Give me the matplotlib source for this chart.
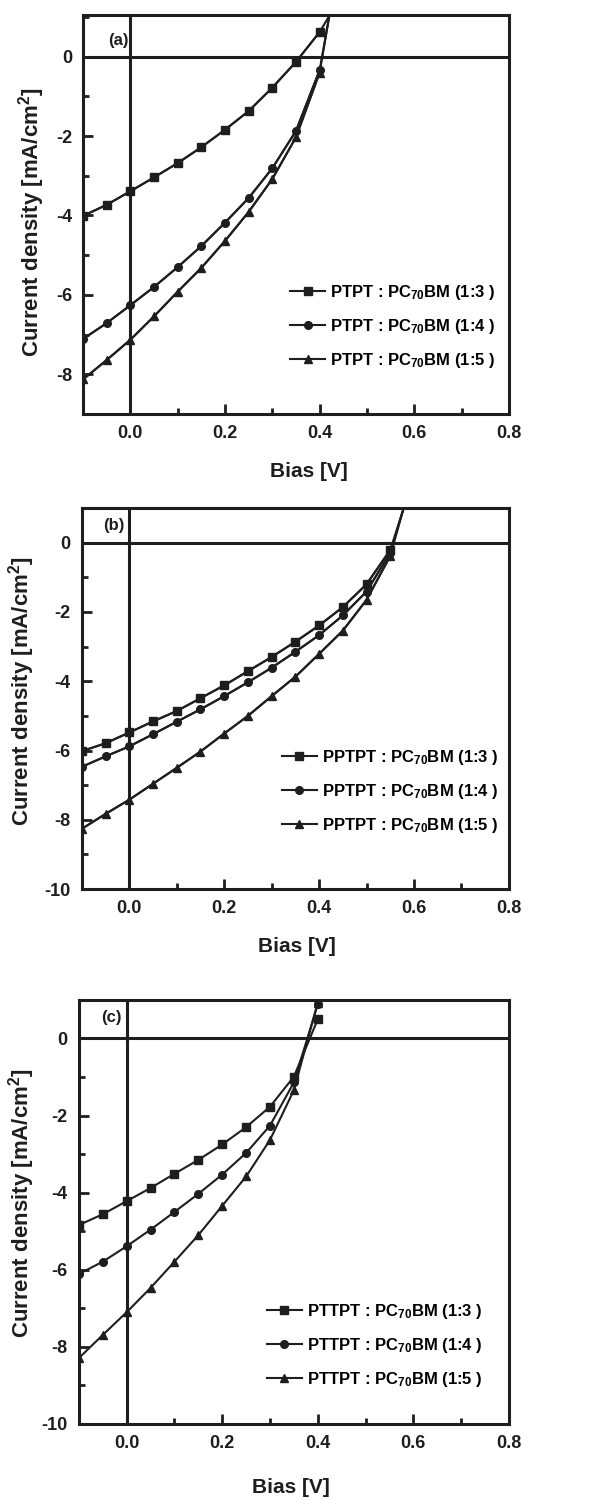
import matplotlib
import matplotlib.pyplot as plt
from matplotlib.ticker import MultipleLocator, FormatStrFormatter

matplotlib.use('agg')

plt.rcParams['font.family'] = ['Liberation Sans', 'DejaVu Sans']
plt.rcParams['font.weight'] = 'bold'
plt.rcParams['axes.labelweight'] = 'bold'
plt.rcParams['mathtext.default'] = 'regular'
plt.rcParams['axes.unicode_minus'] = False

# напряжение, общее для всех кривых
bias = [-0.1, -0.05, 0.0, 0.05, 0.1, 0.15, 0.2, 0.25, 0.3, 0.35, 0.4]
bias_b = [-0.1, -0.05, 0.0, 0.05, 0.1, 0.15, 0.2, 0.25, 0.3, 0.35, 0.4, 0.45, 0.5, 0.55]

# (a) PTPT
a_13 = [-4.01, -3.73, -3.39, -3.04, -2.68, -2.28, -1.84, -1.37, -0.78, -0.13, 0.62]
a_14 = [-7.11, -6.71, -6.26, -5.80, -5.30, -4.77, -4.18, -3.56, -2.81, -1.87, -0.34]
a_15 = [-8.13, -7.64, -7.13, -6.54, -5.92, -5.32, -4.64, -3.91, -3.08, -2.03, -0.40]
a_tail_x = 0.45
a_tail = [1.62, 3.0, 3.1]

# (b) PPTPT
b_13 = [-6.02, -5.79, -5.48, -5.16, -4.86, -4.49, -4.12, -3.71, -3.30, -2.86, -2.39, -1.86, -1.20, -0.21]
b_14 = [-6.47, -6.17, -5.88, -5.53, -5.17, -4.81, -4.43, -4.03, -3.61, -3.15, -2.67, -2.10, -1.41, -0.29]
b_15 = [-8.26, -7.83, -7.42, -6.96, -6.50, -6.03, -5.51, -5.00, -4.43, -3.87, -3.21, -2.54, -1.65, -0.38]
b_tail_x = 0.6
b_tail = [1.92, 2.0, 2.07]

# (c) PTTPT
c_13 = [-4.84, -4.56, -4.22, -3.88, -3.51, -3.15, -2.75, -2.30, -1.77, -0.99, 0.50]
c_14 = [-6.11, -5.79, -5.39, -4.96, -4.50, -4.03, -3.53, -2.97, -2.26, -1.14, 0.89]
c_15 = [-8.29, -7.69, -7.10, -6.47, -5.79, -5.10, -4.34, -3.58, -2.63, -1.34, 0.93]

ratios = ['1:3', '1:4', '1:5']
markers = ['s', 'o', '^']
ink = '#1e1e1e'

# положение осей, подписей и легенды для каждой панели
panels = [
    dict(tag='(a)', polymer='PTPT', xs=bias, series=[a_13, a_14, a_15], tail_x=a_tail_x, tail=a_tail,
         ylim=(-9, 1.05), rect=[0.141, 0.724, 0.723, 0.266], tag_pos=(0.058, 0.937),
         leg=(0.467, 0.22), ylab=(-0.085, 0.48), xlab=(0.53, -0.12)),
    dict(tag='(b)', polymer='PPTPT', xs=bias_b, series=[b_13, b_14, b_15], tail_x=b_tail_x, tail=b_tail,
         ylim=(-10, 1), rect=[0.139, 0.4073, 0.725, 0.254], tag_pos=(0.05, 0.955),
         leg=(0.449, 0.256), ylab=(-0.105, 0.52), xlab=(0.503, -0.126)),
    dict(tag='(c)', polymer='PTTPT', xs=bias, series=[c_13, c_14, c_15], tail_x=None, tail=None,
         ylim=(-10, 1), rect=[0.134, 0.0507, 0.730, 0.2827], tag_pos=(0.052, 0.958),
         leg=(0.418, 0.186), ylab=(-0.098, 0.52), xlab=(0.493, -0.127)),
]

fig = plt.figure(figsize=(5.89, 15), dpi=100)

for p in panels:
    ax = fig.add_axes(p['rect'])
    ax.axhline(0, color=ink, lw=2.2, zorder=1)
    ax.axvline(0, color=ink, lw=2.2, zorder=1)

    for i, ys in enumerate(p['series']):
        # хвост кривой уходит за верхнюю границу графика
        if p['tail'] is not None:
            ax.plot(list(p['xs']) + [p['tail_x']], list(ys) + [p['tail'][i]], color=ink, lw=1.5, zorder=2)
        ax.plot(p['xs'], ys, color=ink, lw=1.5, marker=markers[i], markersize=5.5,
                label=f"{p['polymer']} : PC$_{{70}}$BM ({ratios[i]} )", zorder=3)

    ax.set_xlim(-0.1, 0.8)
    ax.set_ylim(*p['ylim'])
    ax.xaxis.set_major_locator(MultipleLocator(0.2))
    ax.xaxis.set_minor_locator(MultipleLocator(0.1))
    ax.yaxis.set_major_locator(MultipleLocator(2))
    ax.yaxis.set_minor_locator(MultipleLocator(1))
    ax.xaxis.set_major_formatter(FormatStrFormatter('%.1f'))
    ax.yaxis.set_major_formatter(FormatStrFormatter('%d'))
    ax.tick_params(which='major', direction='in', length=7, width=2, labelsize=13, pad=8, colors=ink)
    ax.tick_params(which='minor', direction='in', length=4, width=2, colors=ink)
    for sp in ax.spines.values():
        sp.set_linewidth(2.2)
        sp.set_color(ink)

    ax.set_xlabel('Bias [V]', fontsize=15, color=ink)
    ax.set_ylabel('Current density [mA/cm$^2$]', fontsize=16, color=ink)
    ax.xaxis.set_label_coords(*p['xlab'])
    ax.yaxis.set_label_coords(*p['ylab'])
    ax.text(p['tag_pos'][0], p['tag_pos'][1], p['tag'], transform=ax.transAxes, fontsize=12,
            ha='left', va='center', color=ink)

    ax.legend(loc='center left', bbox_to_anchor=p['leg'], frameon=False, fontsize=12,
              handlelength=2.1, handletextpad=0.3, labelspacing=0.9, borderpad=0)

plt.savefig('out.png', dpi=100)
